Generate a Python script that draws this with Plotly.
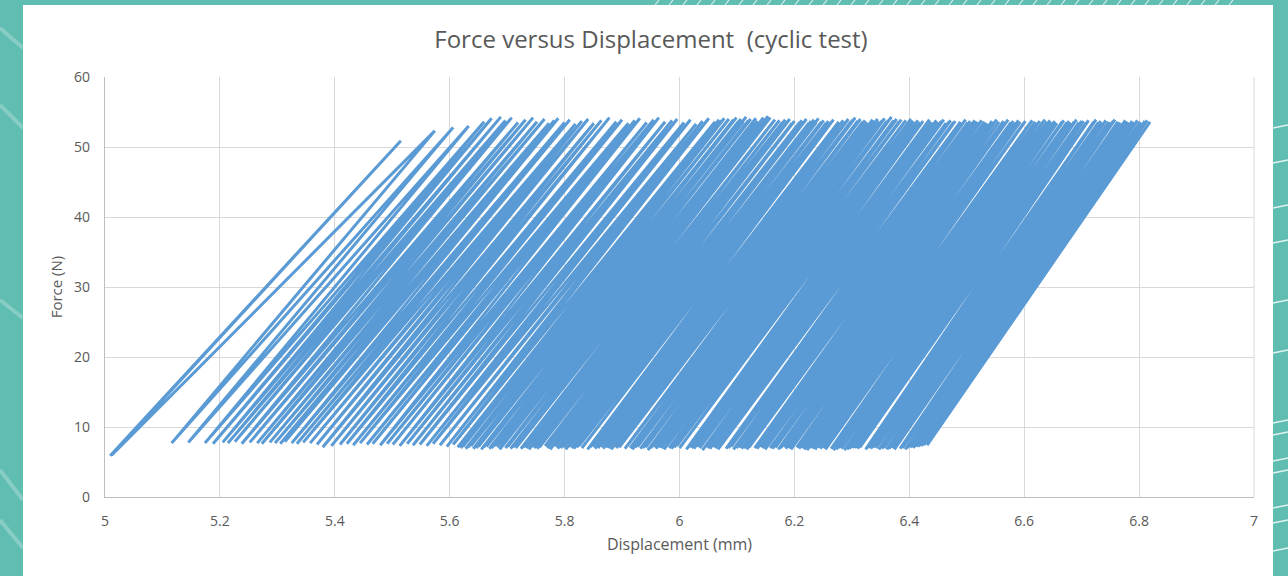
import plotly.graph_objects as go

# ---- data (turning points of each load cycle) ----
bottom_disp = [
    5.009, 5.012,
    5.116, 5.145, 5.174, 5.188, 5.205, 5.214, 5.226, 5.238, 5.252, 5.265,
    5.273, 5.287, 5.296, 5.305, 5.313, 5.325, 5.334, 5.345, 5.357, 5.369,
    5.379, 5.394, 5.409, 5.421, 5.432, 5.444, 5.456, 5.466, 5.479, 5.491,
    5.501, 5.513, 5.526, 5.536, 5.548, 5.560, 5.571, 5.583, 5.595, 5.606,
    5.614,
    5.619, 5.623, 5.628, 5.632, 5.637, 5.641, 5.646, 5.650, 5.655, 5.659,
    5.664, 5.669, 5.673, 5.678, 5.683, 5.687, 5.697, 5.701, 5.706, 5.710,
    5.715, 5.719, 5.724, 5.728, 5.733, 5.738, 5.743, 5.747, 5.752, 5.756,
    5.766, 5.770, 5.775, 5.779, 5.784, 5.788, 5.793, 5.798, 5.802, 5.807,
    5.812, 5.816, 5.821, 5.825, 5.830, 5.840, 5.844, 5.849, 5.853, 5.858,
    5.863, 5.867, 5.872, 5.876, 5.881, 5.886, 5.890, 5.895, 5.905, 5.909,
    5.914, 5.918, 5.923, 5.927, 5.932, 5.936, 5.941, 5.945, 5.950, 5.955,
    5.959, 5.964, 5.968, 5.973, 5.977, 5.982, 5.986, 5.991, 5.995, 6.000,
    6.012, 6.016, 6.021, 6.025, 6.030, 6.035, 6.040, 6.044, 6.049, 6.053,
    6.058, 6.062, 6.067, 6.071, 6.081, 6.085, 6.090, 6.094, 6.099, 6.103,
    6.108, 6.112, 6.117, 6.121, 6.131, 6.135, 6.140, 6.144, 6.149, 6.153,
    6.158, 6.162, 6.167, 6.172, 6.176, 6.181, 6.185, 6.190, 6.194, 6.204,
    6.208, 6.213, 6.217, 6.222, 6.227, 6.232, 6.236, 6.241, 6.245, 6.250,
    6.254, 6.264, 6.268, 6.273, 6.277, 6.282, 6.287, 6.292, 6.296, 6.301,
    6.305, 6.310, 6.314, 6.324, 6.328, 6.333, 6.337, 6.342, 6.347, 6.352,
    6.356, 6.361, 6.365, 6.370, 6.374, 6.384, 6.388, 6.393, 6.397, 6.402,
    6.407, 6.412, 6.416, 6.421, 6.425, 6.431,
]
bottom_force = [
    5.9, 6.0,
    7.7, 7.8, 7.7, 7.6, 7.8, 7.7, 7.9, 7.6, 7.8, 7.7,
    7.6, 7.8, 7.7, 7.6, 7.9, 7.7, 7.6, 7.8, 7.7, 7.5,
    7.1, 7.3, 7.5, 7.6, 7.4, 7.7, 7.5, 7.6, 7.4, 7.6,
    7.5, 7.3, 7.6, 7.4, 7.5, 7.3, 7.6, 7.4, 7.2, 7.5,
    7.1,
    7.0, 7.2, 6.9, 7.1, 7.3, 6.9, 7.0, 7.2, 6.8, 7.1,
    7.2, 6.9, 7.0, 7.3, 7.1, 6.8, 7.0, 7.2, 6.9, 7.1,
    7.0, 7.3, 6.9, 7.1, 7.0, 6.8, 7.2, 7.0, 6.9, 7.1,
    7.3, 7.0, 6.8, 7.1, 7.2, 6.9, 7.0, 7.1, 6.8, 7.2,
    7.0, 6.9, 7.1, 7.3, 7.0, 6.8, 7.1, 7.2, 6.9, 7.0,
    7.2, 6.9, 7.1, 7.0, 6.8, 7.2, 7.0, 7.1, 6.9, 7.3,
    7.0, 6.8, 7.1, 7.2, 6.9, 7.0, 7.1, 6.7, 7.0, 7.2,
    6.9, 7.1, 7.0, 6.8, 7.2, 7.0, 6.9, 7.1, 7.3, 7.0,
    6.8, 7.1, 7.0, 6.9, 7.2, 7.0, 6.7, 7.1, 7.0, 6.9,
    7.2, 7.0, 6.8, 7.1, 6.9, 7.0, 7.2, 6.8, 7.0, 7.1,
    6.9, 7.0, 6.8, 7.1, 7.0, 6.9, 7.2, 7.0, 6.8, 7.1,
    7.0, 6.9, 7.1, 6.8, 7.0, 7.2, 6.9, 7.0, 6.8, 7.1,
    6.9, 7.0, 6.8, 6.7, 7.0, 6.9, 6.8, 7.1, 6.9, 7.0,
    6.8, 6.9, 6.7, 6.8, 7.0, 6.9, 6.7, 6.8, 6.9, 7.0,
    7.0, 6.9, 7.1, 6.8, 7.0, 6.9, 7.1, 7.0, 6.8, 6.9,
    7.0, 6.8, 6.9, 7.0,
    6.8, 6.9, 7.0, 6.8, 7.0, 7.1, 7.0, 7.2, 7.2, 7.3,
    7.4, 7.4,
]
top_disp = [
    5.515, 5.574,
    5.606, 5.633, 5.660, 5.673, 5.689, 5.697, 5.708, 5.719, 5.732, 5.745,
    5.752, 5.765, 5.773, 5.782, 5.789, 5.800, 5.809, 5.819, 5.830, 5.841,
    5.851, 5.864, 5.878, 5.890, 5.900, 5.911, 5.922, 5.931, 5.943, 5.955,
    5.964, 5.975, 5.987, 5.996, 6.008, 6.019, 6.029, 6.040, 6.051, 6.062,
    6.069,
    6.074, 6.078, 6.082, 6.086, 6.091, 6.094, 6.099, 6.103, 6.107, 6.111,
    6.116, 6.120, 6.124, 6.129, 6.133, 6.136, 6.146, 6.149, 6.154, 6.158,
    6.162, 6.166, 6.170, 6.174, 6.179, 6.184, 6.188, 6.192, 6.196, 6.200,
    6.209, 6.213, 6.217, 6.221, 6.225, 6.229, 6.234, 6.238, 6.242, 6.247,
    6.251, 6.255, 6.259, 6.263, 6.268, 6.277, 6.280, 6.285, 6.289, 6.294,
    6.298, 6.302, 6.306, 6.310, 6.315, 6.319, 6.323, 6.327, 6.336, 6.340,
    6.345, 6.348, 6.353, 6.357, 6.361, 6.365, 6.369, 6.373, 6.378, 6.382,
    6.386, 6.391, 6.394, 6.399, 6.403, 6.407, 6.411, 6.415, 6.419, 6.424,
    6.435, 6.438, 6.443, 6.447, 6.451, 6.456, 6.460, 6.464, 6.469, 6.472,
    6.477, 6.480, 6.485, 6.489, 6.498, 6.502, 6.506, 6.510, 6.514, 6.518,
    6.523, 6.526, 6.531, 6.535, 6.544, 6.547, 6.552, 6.556, 6.560, 6.564,
    6.569, 6.572, 6.577, 6.581, 6.585, 6.590, 6.593, 6.598, 6.602, 6.611,
    6.614, 6.619, 6.623, 6.627, 6.632, 6.636, 6.640, 6.645, 6.648, 6.653,
    6.657, 6.666, 6.669, 6.674, 6.678, 6.682, 6.687, 6.691, 6.695, 6.700,
    6.703, 6.708, 6.712, 6.721, 6.725, 6.729, 6.733, 6.737, 6.742, 6.747,
    6.750, 6.755, 6.758, 6.763, 6.767, 6.776, 6.780, 6.784, 6.788, 6.792,
    6.797, 6.802, 6.805, 6.810, 6.814, 6.819,
]
top_force = [
    50.9, 52.3,
    52.8, 53.0, 53.6, 54.1, 54.3, 53.8, 54.2, 53.5, 53.9, 54.2,
    53.6, 54.0, 53.4, 53.8, 54.1, 53.5, 53.9, 53.3, 53.7, 54.0,
    53.4, 53.8, 54.2, 53.6, 53.9, 53.4, 53.8, 54.1, 53.5, 53.9,
    54.2, 53.6, 53.8, 54.0, 53.5, 53.9, 53.3, 53.7, 54.1, 53.6,
    53.9,
    53.8, 54.1, 53.6, 54.0, 53.5, 53.9, 54.2, 53.7, 54.0, 53.6,
    54.3, 53.8, 54.0, 53.5, 54.1, 53.7, 54.2, 53.9, 54.4, 54.2,
    53.6, 53.9, 53.4, 53.8, 53.5, 53.9, 53.6, 54.0, 53.4, 53.7,
    53.5, 53.8, 53.6, 54.0, 53.4, 53.7, 53.9, 53.5, 54.1, 53.6,
    53.8, 53.4, 53.7, 53.5, 53.9, 53.6, 53.3, 53.8, 53.5, 54.0,
    53.6, 53.9, 54.2, 53.7, 54.0, 53.6, 53.8, 53.5, 53.9, 53.7,
    54.0, 53.6, 53.8, 54.1, 53.7, 53.9, 54.3, 53.8, 54.0, 53.6,
    53.9, 53.5, 53.8, 53.6, 54.0, 53.7, 53.4, 53.8, 53.5, 53.7,
    53.9, 53.6, 53.4, 53.8, 53.5, 53.7, 53.9, 53.4, 53.6, 53.8,
    53.5, 53.7, 53.3, 53.6, 53.9, 53.5, 53.7, 53.4, 53.8, 53.6,
    53.5, 53.8, 53.6, 53.4, 53.7, 53.5, 53.9, 53.6, 53.4, 53.7,
    53.6, 53.9, 53.5, 53.7, 53.4, 53.8, 53.6, 53.3, 53.7, 53.5,
    53.8, 53.6, 53.4, 53.7, 53.5, 53.9, 53.6, 53.8, 53.5, 53.7,
    53.4, 53.6, 53.8, 53.5, 53.7, 53.4, 53.6, 53.9, 53.5, 53.7,
    53.7, 53.5, 53.8, 53.6, 53.9, 53.5, 53.7, 53.4, 53.8, 53.6,
    53.5, 53.7, 53.9, 53.6,
    53.5, 53.8, 53.6, 53.4, 53.7, 53.5, 53.8, 53.6, 53.4, 53.7,
    53.8, 53.6,
]

x_ticks = [5, 5.2, 5.4, 5.6, 5.8, 6, 6.2, 6.4, 6.6, 6.8, 7]
x_tick_text = ["5", "5.2", "5.4", "5.6", "5.8", "6", "6.2", "6.4", "6.6", "6.8", "7"]
y_ticks = [0, 10, 20, 30, 40, 50, 60]

# ---- build the path: bottom -> top -> next bottom -> ... ----
xs, ys = [], []
for bd, bf, td, tf in zip(bottom_disp, bottom_force, top_disp, top_force):
    xs += [bd, td]
    ys += [bf, tf]

TEXT = "#595959"
GRID = "#d9d9d9"
FONT = "Open Sans, Lato, sans-serif"

fig = go.Figure()
fig.add_trace(go.Scatter(
    x=xs, y=ys, mode="lines",
    line=dict(color="#5b9bd5", width=3.0),
    hoverinfo="skip", showlegend=False,
))

# plot area: x 105..1254 px, y 77..497 px
L, R, T, B = 105, 1254, 77, 497
def px(xp):
    return (xp - L) / (R - L)
def py(yp):
    return (B - yp) / (B - T)

shapes = [
    dict(type="rect", xref="paper", yref="paper", layer="below",
         x0=px(23), x1=px(1273), y0=py(600), y1=py(5),
         fillcolor="white", line=dict(width=0)),
]
# faint decorative streaks on the teal frame
deco = [
    (0, 28, 23, 48), (0, 105, 23, 128), (0, 300, 23, 318), (0, 470, 23, 500),
    (0, 520, 23, 548),
]
for x0, y0, x1, y1 in deco:
    shapes.append(dict(type="line", xref="paper", yref="paper", layer="below",
                       x0=px(x0), y0=py(y0), x1=px(x1), y1=py(y1),
                       line=dict(color="rgba(255,255,255,0.25)", width=4)))
for yy in [125, 160, 205, 240, 300, 350, 420, 432, 458, 470, 505, 520, 548]:
    shapes.append(dict(type="line", xref="paper", yref="paper", layer="below",
                       x0=px(1273), y0=py(yy + 3), x1=px(1288), y1=py(yy),
                       line=dict(color="rgba(255,255,255,0.8)", width=1.5)))
for xx in range(655, 1235, 14):
    shapes.append(dict(type="line", xref="paper", yref="paper", layer="below",
                       x0=px(xx), y0=py(5), x1=px(xx + 4), y1=py(0),
                       line=dict(color="rgba(255,255,255,0.75)", width=1.2)))
# right border of the grid
shapes.append(dict(type="line", xref="paper", yref="paper", layer="below",
                   x0=1, x1=1, y0=0, y1=1, line=dict(color=GRID, width=1)))

fig.update_layout(
    width=1288, height=576, autosize=False,
    paper_bgcolor="#5fbdb1", plot_bgcolor="white",
    margin=dict(l=L, r=1288 - R, t=T, b=576 - B, pad=0),
    font=dict(family=FONT, color=TEXT, size=13),
    title=dict(text="Force versus Displacement  (cyclic test)",
               x=651 / 1288, xref="container", xanchor="center",
               y=1 - 40 / 576, yref="container", yanchor="middle",
               font=dict(family=FONT, size=24, color=TEXT)),
    shapes=shapes,
    xaxis=dict(range=[5, 7], tickvals=x_ticks, ticktext=x_tick_text,
               showgrid=True, gridcolor=GRID, gridwidth=1,
               showline=True, linecolor="#bfbfbf", linewidth=1.3,
               zeroline=False, ticks="", ticklabelstandoff=11,
               tickfont=dict(size=14, color=TEXT),
               title=dict(text="Displacement (mm)", standoff=9,
                          font=dict(size=16, color=TEXT)),
               fixedrange=True),
    yaxis=dict(range=[0, 60], tickvals=y_ticks,
               showgrid=True, gridcolor=GRID, gridwidth=1,
               showline=True, linecolor="#bfbfbf", linewidth=1.3,
               zeroline=False, ticks="", ticklabelstandoff=11,
               tickfont=dict(size=14, color=TEXT),
               title=dict(text="Force (N)", standoff=7,
                          font=dict(size=15, color=TEXT)),
               fixedrange=True),
)

fig.write_html("out.html",
               config={"displayModeBar": False, "staticPlot": True},
               post_script="document.body.style.margin='0';"
                           "document.body.style.overflow='hidden';")
